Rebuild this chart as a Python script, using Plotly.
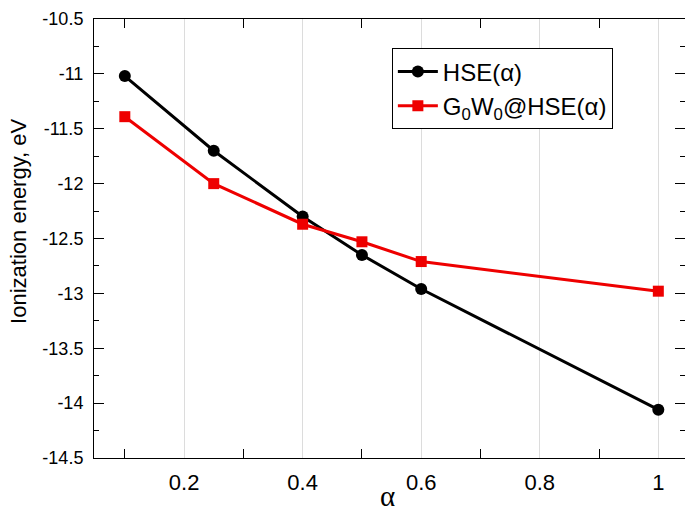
import plotly.graph_objects as go

alpha = [0.1, 0.25, 0.4, 0.5, 0.6, 1.0]
hse = [-11.02, -11.70, -12.30, -12.65, -12.96, -14.06]
g0w0 = [-11.39, -12.00, -12.37, -12.53, -12.71, -12.98]

x_tickvals = [0.2, 0.4, 0.6, 0.8, 1.0]
x_ticktext = ["0.2", "0.4", "0.6", "0.8", "1"]
y_tickvals = [-10.5, -11, -11.5, -12, -12.5, -13, -13.5, -14, -14.5]
y_ticktext = ["-10.5", "-11", "-11.5", "-12", "-12.5", "-13", "-13.5", "-14", "-14.5"]

fig = go.Figure()
fig.add_trace(go.Scatter(
    x=alpha, y=hse, mode="lines+markers", name="HSE(α)",
    line=dict(color="black", width=3),
    marker=dict(symbol="circle", size=12, color="black"),
))
fig.add_trace(go.Scatter(
    x=alpha, y=g0w0, mode="lines+markers", name="G<sub>0</sub>W<sub>0</sub>@HSE(α)",
    line=dict(color="#ee0000", width=3),
    marker=dict(symbol="square", size=11, color="#ee0000"),
))

fig.update_layout(
    width=685, height=514,
    margin=dict(l=94, r=0, t=19, b=56, autoexpand=False),
    paper_bgcolor="white", plot_bgcolor="white",
    font=dict(family="Liberation Sans, Arial, sans-serif", color="black"),
    showlegend=True,
    legend=dict(
        x=0.504, y=0.933, xanchor="left", yanchor="top",
        bgcolor="white", bordercolor="black", borderwidth=1,
        font=dict(size=24, color="black"),
        tracegroupgap=0, itemwidth=40,
    ),
    annotations=[
        dict(text="α", xref="paper", yref="paper", x=0.497, y=0, yshift=-38,
             xanchor="center", yanchor="middle", showarrow=False, borderpad=0,
             font=dict(family="Liberation Serif, Times New Roman, serif", size=29, color="black")),
        dict(text="Ionization energy, eV", xref="paper", yref="paper",
             x=-0.127, y=0.54, xanchor="center", yanchor="middle", textangle=-90,
             showarrow=False, font=dict(size=22, color="black")),
    ],
)

fig.update_xaxes(
    range=[0.048, 1.045], automargin=False,
    tickvals=x_tickvals, ticktext=x_ticktext,
    tickfont=dict(size=22),
    ticks="", showline=True, linecolor="black", linewidth=1, mirror="ticks",
    showgrid=True, gridcolor="#dcdcdc", gridwidth=1,
    zeroline=False, ticklabelstandoff=5,
    minor=dict(tickvals=[0.1, 0.3, 0.5, 0.7, 0.9], ticks="inside", ticklen=9,
               tickcolor="black", showgrid=False),
)
fig.update_yaxes(
    range=[-14.5, -10.5], automargin=False,
    tickvals=y_tickvals, ticktext=y_ticktext,
    tickfont=dict(size=18),
    ticks="inside", ticklen=10, tickcolor="black",
    showline=True, linecolor="black", linewidth=1, mirror="ticks",
    showgrid=False, zeroline=False,
    ticklabelstandoff=6,
    minor=dict(dtick=0.25, ticks="inside", ticklen=5, tickcolor="black", showgrid=False),
)

fig.write_html("out.html", config={"displayModeBar": False},
               post_script="document.body.style.margin='0';document.body.style.overflow='hidden';")
